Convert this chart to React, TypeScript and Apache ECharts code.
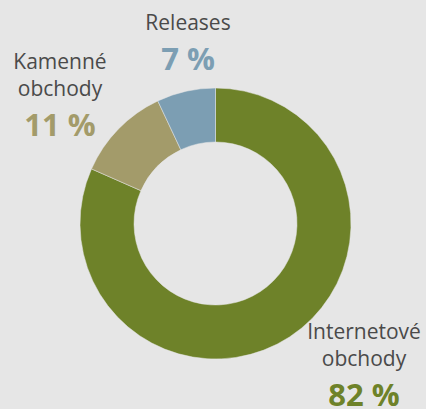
import React, { useEffect, useRef } from "react";
import * as echarts from "echarts";

const categories = ["Internetové\nobchody", "Kamenné\nobchody", "Releases"];
const values = [81.6, 11.4, 7.0];
const sliceColors = ["#6e8229", "#a39b6a", "#7c9eb3"];
const richKeys = ["g", "k", "b"];
const labelSpots = [
  { x: 364, y: 317 },
  { x: 60, y: 47 },
  { x: 188, y: 8 },
];

export default function App() {
  const ref = useRef<HTMLDivElement>(null);
  useEffect(() => {
    document.body.style.margin = "0";
    if (!ref.current) return;
    const chart = echarts.init(ref.current, null, { renderer: "svg" });
    const rich: any = {
      n: { fontFamily: "Open Sans", fontSize: 21, color: "#4a4a4a", lineHeight: 27 },
    };
    richKeys.forEach((k, i) => {
      rich[k] = {
        fontFamily: "Open Sans",
        fontSize: 31,
        fontWeight: "bold",
        color: sliceColors[i],
        lineHeight: 46,
      };
    });
    chart.setOption({
      animation: false,
      backgroundColor: "#e6e6e6",
      series: [
        {
          type: "pie",
          center: [215.5, 223.5],
          radius: [81.5, 135.5],
          startAngle: 90,
          clockwise: true,
          avoidLabelOverlap: false,
          itemStyle: { borderColor: "#e6e6e6", borderWidth: 0.5 },
          label: {
            show: true,
            position: "outside",
            formatter: (p: any) => {
              const lines = String(p.name)
                .split("\n")
                .map((s: string) => `{n|${s}}`)
                .join("\n");
              return `${lines}\n{${richKeys[p.dataIndex]}|${Math.round(p.value)} %}`;
            },
            rich,
          },
          labelLine: { show: false },
          labelLayout: (params: any) => {
            const s = labelSpots[params.dataIndex];
            return { x: s.x, y: s.y, align: "center", verticalAlign: "top" };
          },
          emphasis: { disabled: true },
          data: categories.map((name, i) => ({
            name,
            value: values[i],
            itemStyle: { color: sliceColors[i] },
          })),
        },
      ],
    });
    return () => chart.dispose();
  }, []);
  return <div ref={ref} style={{ width: 426, height: 409 }} />;
}
